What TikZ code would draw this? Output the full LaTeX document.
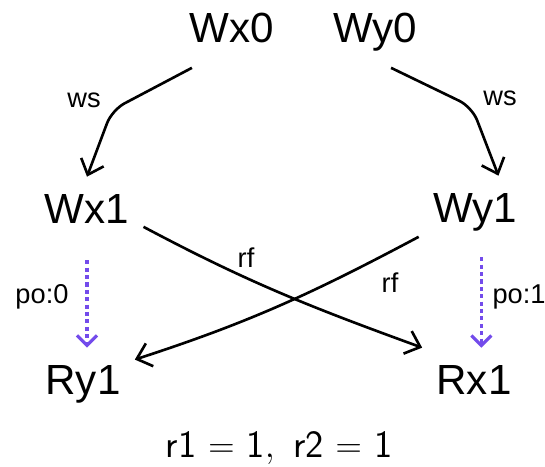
\documentclass[tikz,border=0pt]{standalone}
\usepackage{fontspec}
\setmainfont{Liberation Sans}
\usetikzlibrary{arrows.meta}
\definecolor{poviolet}{RGB}{115,75,235}
\newcommand{\gapsp}{\mskip6mu}

\begin{document}
\begin{tikzpicture}[x=0.02cm, y=0.02cm,
  ev/.style={font=\fontsize{24}{28}\selectfont, anchor=base, inner xsep=0.28cm,
             inner ysep=0.34cm, text height=0.6cm, text depth=0.15cm},
  lbl/.style={font=\fontsize{15.5}{18}\selectfont, inner sep=0pt},
  res/.style={font=\fontsize{22}{26}\selectfont, anchor=base, inner sep=0pt},
  arr/.style={-{Straight Barb[length=2.7mm, width=4.8mm]}, line width=1.5pt},
  po/.style={-{Straight Barb[length=2mm, width=4mm]}, line width=1.8pt,
             draw=poviolet, dash pattern=on 2.3pt off 1.9pt}]
\useasboundingbox (0,0) rectangle (545,467);

% --- events
\node[ev] (wx0) at (232,424) {Wx0};
\node[ev] (wy0) at (375,424) {Wy0};
\node[ev] (wx1) at (87,243) {Wx1};
\node[ev] (wy1) at (475,244) {Wy1};
\node[ev] (ry1) at (83,72) {Ry1};
\node[ev] (rx1) at (474,72) {Rx1};

% --- write serialization
\coordinate (wsl) at (112,357);
\coordinate (wsr) at (472,360);
\draw[arr, rounded corners=8pt] (wx0.-138) -- (wsl) -- (wx1.north);
\draw[arr, rounded corners=8pt] (wy0.-66) -- (wsr) -- (wy1.57);
\node[lbl] (ws1) at (84,367) {ws};
\node[lbl] (ws2) at (500,369) {ws};

% --- reads-from
\draw[arr] (wx1.-14) to[out=-28, in=160] (rx1.north west);
\draw[arr] (wy1.-156) to[out=208, in=18] (ry1.25);
\node[lbl] (rf1) at (246,209) {rf};
\node[lbl] (rf2) at (390,184) {rf};

% --- program order
\draw[po, shorten <=0.23cm] (wx1.south) -- (wx1.south |- ry1.north);
\draw[po, shorten <=0.19cm] (wy1.-80) -- (wy1.-80 |- rx1.north);
\node[lbl] (po0) at (42,170) {po:0};
\node[lbl] (po1) at (519,170) {po:1};

\node[res] (out) at (279,9)
  {$\mathsf{r1}\gapsp{=}\gapsp\mathsf{1},\gapsp\mathsf{r2}\gapsp{=}\gapsp\mathsf{1}$};
\end{tikzpicture}
\end{document}
